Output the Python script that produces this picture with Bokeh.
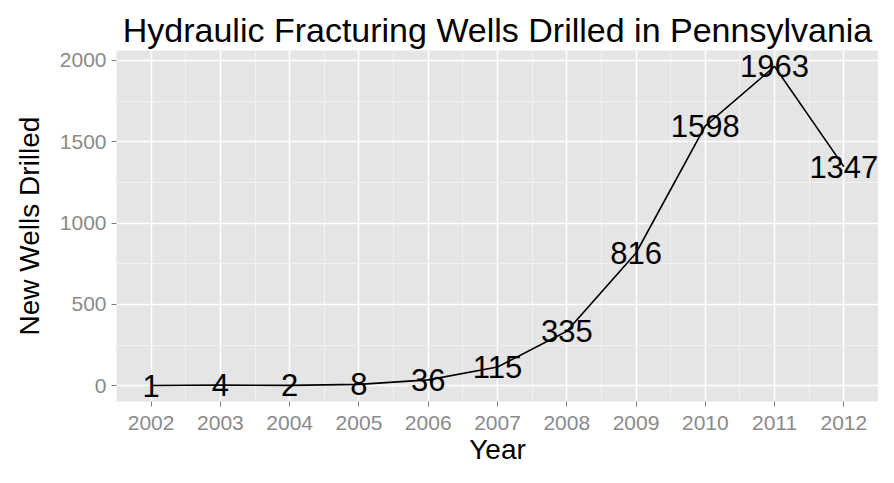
from bokeh.plotting import figure
from bokeh.models import Range1d, FixedTicker, ColumnDataSource
from bokeh.core.properties import value
from bokeh.embed import file_html
from bokeh.resources import INLINE

years = [2002, 2003, 2004, 2005, 2006, 2007, 2008, 2009, 2010, 2011, 2012]
wells = [1, 4, 2, 8, 36, 115, 335, 816, 1598, 1963, 1347]
labels = [str(v) for v in wells]
y_ticks = [0, 500, 1000, 1500, 2000]

FONT = "Liberation Sans"

src = ColumnDataSource(dict(x=years, y=wells, t=labels))

p = figure(width=878, height=467, output_backend="svg", toolbar_location=None,
           x_range=Range1d(2001.5, 2012.5), y_range=Range1d(-97, 2061),
           min_border_left=116, min_border_right=0, min_border_top=50, min_border_bottom=63,
           title="Hydraulic Fracturing Wells Drilled in Pennsylvania")

p.background_fill_color = "#E5E5E5"
p.border_fill_color = "white"
p.outline_line_color = None

p.title.text_font = FONT
p.title.text_font_size = "34px"
p.title.text_font_style = "normal"
p.title.align = "center"
p.title.text_color = "black"
p.title.offset = 0
p.title.standoff = 4

p.xaxis.ticker = FixedTicker(ticks=years, minor_ticks=[y + 0.5 for y in years[:-1]])
p.yaxis.ticker = FixedTicker(ticks=y_ticks, minor_ticks=[250, 750, 1250, 1750])

for ax in (p.xaxis, p.yaxis):
    ax.axis_line_color = None
    ax.major_tick_line_color = "#7F7F7F"
    ax.major_tick_in = 0
    ax.major_tick_out = 5
    ax.minor_tick_line_color = None
    ax.major_label_text_font = FONT
    ax.major_label_text_font_size = "21px"
    ax.major_label_text_color = "#8A8A8A"
    ax.axis_label_text_font = FONT
    ax.axis_label_text_font_size = "28px"
    ax.axis_label_text_font_style = "normal"
    ax.axis_label_text_color = "black"

p.xaxis.axis_label = "Year"
p.yaxis.axis_label = "New Wells Drilled"
p.xaxis.major_label_standoff = 9
p.xaxis.axis_label_standoff = 1
p.yaxis.major_label_standoff = 5
p.yaxis.axis_label_standoff = 12

p.grid.grid_line_color = "white"
p.grid.grid_line_width = 1.5
p.grid.minor_grid_line_color = "#F2F2F2"
p.grid.minor_grid_line_width = 1

p.line("x", "y", source=src, line_color="black", line_width=1.6)
p.text("x", "y", text="t", source=src, text_font=value(FONT), text_font_size="31px",
       text_align="center", text_baseline="middle", text_color="black")

open("out.html", "w").write(file_html(p, INLINE))
